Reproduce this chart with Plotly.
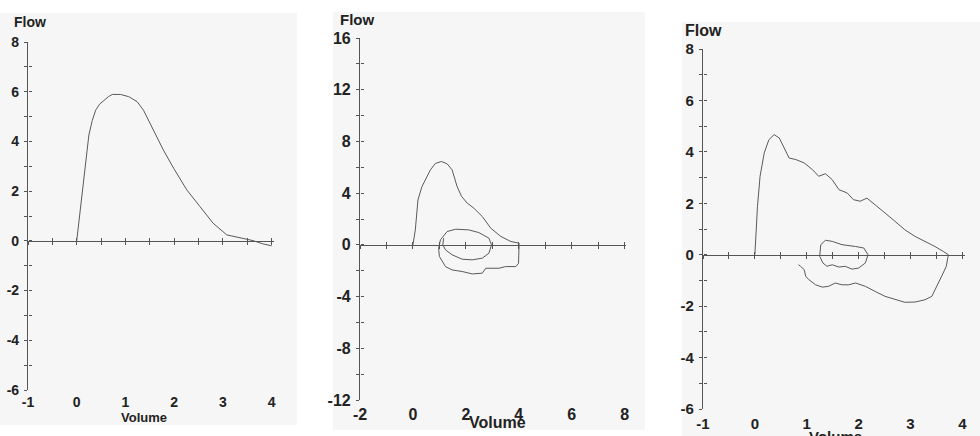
import plotly.graph_objects as go

# ---------------- data ----------------
# Panel 1: expiratory flow-volume curve
p1_vol = [0.00, 0.12, 0.25, 0.32, 0.39, 0.47, 0.56, 0.65, 0.73, 0.90, 1.07, 1.24, 1.37,
          1.58, 1.78, 1.99, 2.26, 2.53, 2.80, 3.08, 3.35, 3.62, 3.82, 4.00]
p1_flow = [0.00, 2.05, 4.26, 4.85, 5.26, 5.50, 5.66, 5.80, 5.89, 5.89, 5.80, 5.60, 5.26,
           4.46, 3.65, 2.92, 2.05, 1.38, 0.71, 0.24, 0.11, 0.01, -0.12, -0.20]

# Panel 2: flow-volume loop with inner tidal loop
p2_vol = [0.00, 0.09, 0.19, 0.34, 0.66, 0.85, 1.08, 1.29, 1.48, 1.67, 1.84, 2.05, 2.30,
          2.62, 2.94, 3.32, 3.70, 4.01, 4.01, 3.99, 3.89, 3.50, 3.25, 2.75, 2.62, 2.24,
          1.86, 1.48, 1.23, 1.00, 0.97, 1.04, 1.29, 1.61, 2.11, 2.49, 2.87, 2.97, 2.87,
          2.62, 2.24, 1.86, 1.48, 1.23, 1.13, 1.16]
p2_flow = [0.00, 1.16, 3.48, 4.50, 5.80, 6.30, 6.45, 6.27, 5.80, 4.50, 3.74, 3.23, 2.84,
           2.19, 1.29, 0.65, 0.26, 0.13, 0.00, -1.42, -1.68, -1.68, -1.81, -1.81, -2.19,
           -2.25, -2.06, -1.94, -1.68, -0.90, -0.26, 0.39, 1.03, 1.21, 1.16, 0.95, 0.52,
           0.00, -0.65, -1.03, -1.16, -1.11, -0.77, -0.39, 0.00, 0.52]

# Panel 3: flow-volume loop (outer) and tidal loop (inner)
p3_vol = [0.00, 0.02, 0.05, 0.10, 0.18, 0.27, 0.37, 0.47, 0.56, 0.66, 0.79, 0.95, 1.11,
          1.23, 1.36, 1.49, 1.62, 1.78, 1.90, 2.03, 2.16, 2.32, 2.51, 2.70, 2.89, 3.09,
          3.28, 3.47, 3.63, 3.73, 3.72, 3.69, 3.63, 3.53, 3.41, 3.28, 3.09, 2.89, 2.70,
          2.51, 2.32, 2.13, 1.94, 1.81, 1.68, 1.55, 1.42, 1.30, 1.17, 1.04, 0.98, 0.95,
          0.88, 0.84]
p3_flow = [0.00, 0.84, 1.88, 3.05, 3.96, 4.47, 4.67, 4.54, 4.15, 3.76, 3.70, 3.57, 3.31,
           3.05, 3.15, 2.92, 2.53, 2.40, 2.14, 2.08, 2.20, 1.95, 1.62, 1.30, 0.97, 0.71,
           0.52, 0.32, 0.13, 0.00, -0.10, -0.45, -0.71, -1.10, -1.62, -1.75, -1.84, -1.85,
           -1.75, -1.62, -1.43, -1.23, -1.10, -1.17, -1.17, -1.10, -1.23, -1.26, -1.17,
           -0.97, -0.84, -0.58, -0.45, -0.39]
p3_in_vol = [1.31, 1.25, 1.27, 1.36, 1.49, 1.68, 1.94, 2.10, 2.18, 2.13, 2.00, 1.87, 1.74,
             1.62, 1.49, 1.39, 1.31]
p3_in_flow = [-0.32, -0.06, 0.39, 0.56, 0.52, 0.39, 0.32, 0.26, 0.00, -0.32, -0.52, -0.56,
              -0.45, -0.48, -0.39, -0.45, -0.32]

# axes settings per panel
x_ranges = [[-1, 4.05], [-2, 8.05], [-1, 4.05]]
y_ranges = [[-6, 8], [-12, 16], [-6, 8]]
x_ticklabels = [[-1, 0, 1, 2, 3, 4], [-2, 0, 2, 4, 6, 8], [-1, 0, 1, 2, 3, 4]]
y_ticklabels = [[-6, -4, -2, 0, 2, 4, 6, 8], [-12, -8, -4, 0, 4, 8, 12, 16],
                [-6, -4, -2, 0, 2, 4, 6, 8]]
x_minor = [0.5, 1, 0.5]
y_minor = [1, 2, 1]

# ---------------- layout geometry ----------------
W, H = 980, 436
x_domains = [[28 / W, 274 / W], [360 / W, 626 / W], [703 / W, 965 / W]]
y_domains = [[1 - 390 / H, 1 - 42 / H], [1 - 400 / H, 1 - 38 / H], [1 - 409 / H, 1 - 49 / H]]
bg_boxes = [[0, 297, 13, 425], [333, 645, 12, 430], [682, 980, 22, 436]]
flow_pos = [[12, 22], [338, 19], [683, 31]]
vol_pos = [[144, 417], [497, 422], [835, 437]]
x_standoff = [2, 3, 4]
tick_fs = [14, 16, 15]
title_fs = [14, 15, 16]
vol_fs = [13, 16, 15]

FONT = "Liberation Sans, Arial, sans-serif"
LINE = "#5a5a5a"
AX = "#555555"

fig = go.Figure()

curves = [
    (0, p1_vol, p1_flow),
    (1, p2_vol, p2_flow),
    (2, p3_vol, p3_flow),
    (2, p3_in_vol, p3_in_flow),
]
for idx, xs, ys in curves:
    sfx = "" if idx == 0 else str(idx + 1)
    fig.add_trace(go.Scatter(x=xs, y=ys, mode="lines", xaxis="x" + sfx, yaxis="y" + sfx,
                             line=dict(color=LINE, width=1.0), hoverinfo="skip",
                             showlegend=False))

layout = dict(width=W, height=H, margin=dict(l=0, r=0, t=0, b=0, pad=0),
              paper_bgcolor="white", plot_bgcolor="rgba(0,0,0,0)", showlegend=False,
              font=dict(family=FONT, color="#222"))
shapes = []
annotations = []
for i in range(3):
    sfx = "" if i == 0 else str(i + 1)
    ov = str(i + 4)
    ov2 = str(i + 7)
    y0, y1 = y_ranges[i]
    dom_y = y_domains[i]
    zero_pos = dom_y[0] + (0 - y0) / (y1 - y0) * (dom_y[1] - dom_y[0])
    tf = dict(family=FONT, size=tick_fs[i], color="#222", weight="bold")
    # bottom axis carrying tick labels only
    layout["xaxis" + sfx] = dict(domain=x_domains[i], range=x_ranges[i], anchor="y" + sfx,
                                 showline=False, showgrid=False, zeroline=False, ticks="",
                                 tickmode="array", tickvals=x_ticklabels[i],
                                 ticktext=[str(v) for v in x_ticklabels[i]],
                                 tickfont=tf, ticklabelstandoff=x_standoff[i],
                                 automargin=False, fixedrange=True)
    # line at flow = 0 with crossing ticks
    for key, tk in (("xaxis" + ov, "outside"), ("xaxis" + ov2, "inside")):
        layout[key] = dict(overlaying="x" + sfx, anchor="free", position=zero_pos,
                           range=x_ranges[i], showline=(tk == "outside"), linecolor=AX,
                           linewidth=1.2, showgrid=False, zeroline=False, ticks=tk,
                           ticklen=3, tickwidth=1, tickcolor=AX, dtick=x_minor[i],
                           tick0=0, showticklabels=False, automargin=False,
                           fixedrange=True)
        fig.add_trace(go.Scatter(x=[None], y=[None], xaxis=key.replace("axis", ""),
                                 yaxis="y" + sfx, mode="lines", showlegend=False,
                                 hoverinfo="skip"))
    # y axis with labels
    layout["yaxis" + sfx] = dict(domain=dom_y, range=y_ranges[i], anchor="x" + sfx,
                                 showline=True, linecolor=AX, linewidth=1.2, showgrid=False,
                                 zeroline=False, ticks="outside", ticklen=3, tickwidth=1,
                                 tickcolor=AX, tickmode="array", tickvals=y_ticklabels[i],
                                 ticktext=[str(v) for v in y_ticklabels[i]],
                                 minor=dict(dtick=y_minor[i], tick0=0, ticks="outside",
                                            ticklen=3, tickcolor=AX),
                                 tickfont=tf, ticklabelstandoff=2, automargin=False,
                                 fixedrange=True)
    layout["yaxis" + ov] = dict(overlaying="y" + sfx, anchor="free",
                                position=x_domains[i][0], range=y_ranges[i],
                                showline=False, showgrid=False, zeroline=False,
                                ticks="inside", ticklen=3, tickwidth=1, tickcolor=AX,
                                dtick=y_minor[i], tick0=0, showticklabels=False,
                                automargin=False, fixedrange=True)
    fig.add_trace(go.Scatter(x=[None], y=[None], xaxis="x" + sfx, yaxis="y" + ov,
                             mode="lines", showlegend=False, hoverinfo="skip"))
    bx = bg_boxes[i]
    shapes.append(dict(type="rect", xref="paper", yref="paper", x0=bx[0] / W, x1=bx[1] / W,
                       y0=1 - bx[3] / H, y1=1 - bx[2] / H, fillcolor="#f6f6f6",
                       line=dict(width=0), layer="below"))
    annotations.append(dict(text="<b>Flow</b>", xref="paper", yref="paper",
                            x=flow_pos[i][0] / W, y=1 - flow_pos[i][1] / H, xanchor="left",
                            yanchor="middle", showarrow=False,
                            font=dict(family=FONT, size=title_fs[i], color="#222")))
    annotations.append(dict(text="<b>Volume</b>", xref="paper", yref="paper",
                            x=vol_pos[i][0] / W, y=1 - vol_pos[i][1] / H, xanchor="center",
                            yanchor="middle", showarrow=False,
                            font=dict(family=FONT, size=vol_fs[i], color="#222")))
layout["shapes"] = shapes
layout["annotations"] = annotations
fig.update_layout(**layout)
fig.write_html("out.html", config={"displayModeBar": False},
               post_script="document.body.style.margin='0';")
